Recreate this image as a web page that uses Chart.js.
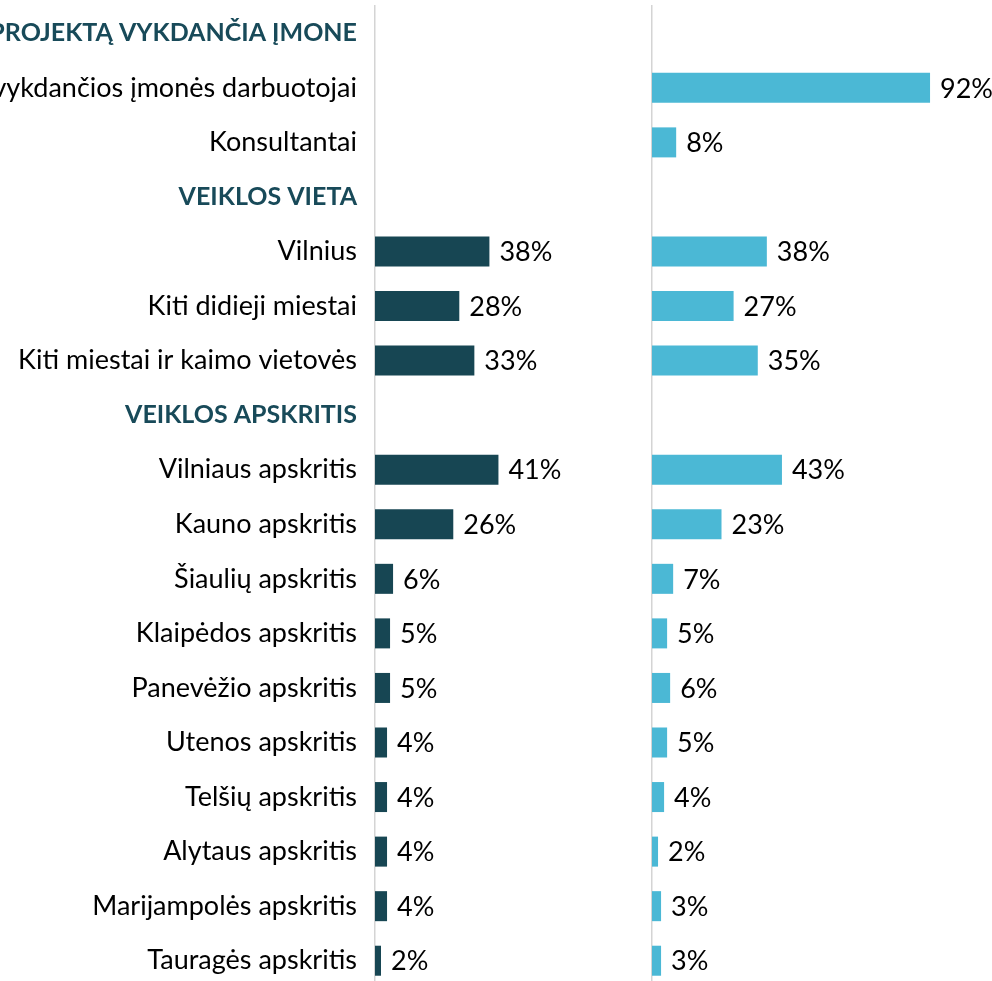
<!DOCTYPE html>
<html>
<head>
<meta charset="utf-8">
<script src="https://cdn.jsdelivr.net/npm/chart.js@4"></script>
<style>
  html, body { margin: 0; padding: 0; overflow: hidden; background: #fff; }
  #wrap { position: relative; width: 992px; height: 981px; overflow: hidden; }
  #left_box { position: absolute; left: 0; top: 0; width: 652px; height: 988px; }
  #right_box { position: absolute; left: 646px; top: 0; width: 346px; height: 988px; }
</style>
</head>
<body>
<div id="wrap">
  <div id="left_box"><canvas id="left_chart"></canvas></div>
  <div id="right_box"><canvas id="right_chart"></canvas></div>
</div>
<script>
const categories = [
  'PROJEKTĄ VYKDANČIA ĮMONE',
  'Projektą vykdančios įmonės darbuotojai',
  'Konsultantai',
  'VEIKLOS VIETA',
  'Vilnius',
  'Kiti didieji miestai',
  'Kiti miestai ir kaimo vietovės',
  'VEIKLOS APSKRITIS',
  'Vilniaus apskritis',
  'Kauno apskritis',
  'Šiaulių apskritis',
  'Klaipėdos apskritis',
  'Panevėžio apskritis',
  'Utenos apskritis',
  'Telšių apskritis',
  'Alytaus apskritis',
  'Marijampolės apskritis',
  'Tauragės apskritis'
];
const headers = ['PROJEKTĄ VYKDANČIA ĮMONE', 'VEIKLOS VIETA', 'VEIKLOS APSKRITIS'];
const left_values = [null, null, null, null, 38, 28, 33, null, 41, 26, 6, 5, 5, 4, 4, 4, 4, 2];
const right_values = [null, 92, 8, null, 38, 27, 35, null, 43, 23, 7, 5, 6, 5, 4, 2, 3, 3];

const font_family = 'Lato, "Open Sans", sans-serif';
const font_size = 27;
const header_size = 25;
const dark = '#174653';
const light = '#4BB8D5';

// value labels at the end of each bar
const bar_labels = {
  id: 'bar_labels',
  afterDatasetsDraw(chart) {
    const ctx = chart.ctx;
    ctx.save();
    ctx.font = font_size + 'px ' + font_family;
    ctx.fillStyle = '#000';
    ctx.textBaseline = 'middle';
    ctx.textAlign = 'left';
    chart.getDatasetMeta(0).data.forEach((bar, i) => {
      const v = chart.data.datasets[0].data[i];
      if (v === null) return;
      ctx.fillText(v + '%', bar.x + 10, bar.y + 1);
    });
    ctx.restore();
  }
};

function make_chart(el, values, color, show_labels, x_max) {
  return new Chart(el, {
    type: 'bar',
    data: {
      labels: categories,
      datasets: [{
        data: values,
        backgroundColor: color,
        borderWidth: 0,
        barPercentage: 0.55,
        categoryPercentage: 1
      }]
    },
    options: {
      indexAxis: 'y',
      responsive: true,
      maintainAspectRatio: false,
      animation: false,
      layout: { padding: { top: 6, bottom: 0, left: 0, right: 0 } },
      plugins: {
        legend: { display: false },
        tooltip: { enabled: false }
      },
      scales: {
        x: {
          display: false,
          min: 0,
          max: x_max
        },
        y: {
          afterFit: s => {
            s.width = show_labels ? 375 : 6;
            s.paddingTop = 0;
            s.paddingBottom = 0;
          },
          grid: { display: false, drawTicks: false },
          border: { display: true, color: '#d4d4d4', width: 1.5 },
          ticks: {
            display: show_labels,
            autoSkip: false,
            padding: 18,
            color: c => headers.includes(categories[c.index]) ? '#184A59' : '#000',
            font: c => {
              const is_header = headers.includes(categories[c.index]);
              return {
                family: font_family,
                size: is_header ? header_size : font_size,
                weight: is_header ? 'bold' : 'normal'
              };
            }
          }
        }
      }
    },
    plugins: [bar_labels]
  });
}

make_chart(document.getElementById('left_chart'), left_values, dark, true, 92);
make_chart(document.getElementById('right_chart'), right_values, light, false, 112.5);
</script>
</body>
</html>
